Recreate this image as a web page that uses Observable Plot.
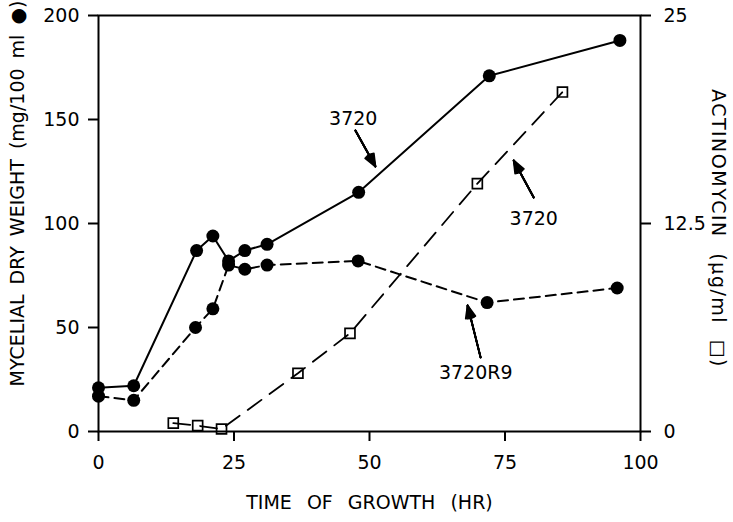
<!DOCTYPE html>
<html>
<head>
<meta charset="utf-8">
<script src="https://cdn.jsdelivr.net/npm/d3@7"></script>
<script src="https://cdn.jsdelivr.net/npm/@observablehq/plot@0.6"></script>
<style>
  html, body { margin: 0; padding: 0; background: white; }
</style>
</head>
<body>
<div id="chart"></div>
<script>
// Data
const time3720   = [0, 6.5, 18.1, 21.1, 24.0, 27.0, 31.1, 48.0, 72.1, 96.2];
const weight3720 = [21, 22, 87, 94, 82, 87, 90, 115, 171, 188];

const timeR9   = [0, 6.5, 17.9, 21.1, 24.0, 27.0, 31.1, 47.9, 71.7, 95.7];
const weightR9 = [17, 15, 50, 59, 80, 78, 80, 82, 62, 69];

const timeActino = [13.8, 18.3, 22.7, 36.8, 46.4, 69.9, 85.6];
const actino     = [0.5, 0.35, 0.15, 3.5, 5.9, 14.9, 20.4];

const xTicks = [0, 25, 50, 75, 100];
const leftTicks = [0, 50, 100, 150, 200];
const rightTicks = [0, 12.5, 25];
const rightMax = 25, leftMax = 200;

const annotLabels = ["3720", "3720", "3720R9"];
const annotX = [47.0, 80.3, 69.6];
const annotY = [150.5, 102.4, 28.4];
const arrowX1 = [47.4, 80.3, 70.5];
const arrowY1 = [144.7, 112.5, 35.6];
const arrowX2 = [51.1, 76.6, 68.1];
const arrowY2 = [127.4, 130.3, 60.6];

const xTitle = "TIME OF GROWTH (HR)";
const leftTitle = "MYCELIAL DRY WEIGHT (mg/100 ml \u25CF)";
const rightTitle = "ACTINOMYCIN (\u00B5g/ml \u25A1)";

// Build tables
const s3720 = time3720.map((t, i) => ({t, w: weight3720[i]}));
const sR9 = timeR9.map((t, i) => ({t, w: weightR9[i]}));
const scale = leftMax / rightMax;
const sAct = timeActino.map((t, i) => ({t, a: actino[i]}));
const annots = annotLabels.map((label, i) => ({label, x: annotX[i], y: annotY[i]}));
const arrows = annotLabels.map((label, i) => ({x1: arrowX1[i], y1: arrowY1[i], x2: arrowX2[i], y2: arrowY2[i]}));

// stacked arrowheads with decreasing angles give a filled head
const arrowMarks = [44, 34, 24, 14, 5].map(a =>
  Plot.arrow(arrows, {x1: "x1", y1: "y1", x2: "x2", y2: "y2", stroke: "black", strokeWidth: 1.8, headLength: 11, headAngle: a})
);

const chart = Plot.plot({
  width: 733,
  height: 522,
  marginLeft: 98,
  marginRight: 93,
  marginTop: 15,
  marginBottom: 91,
  style: {fontFamily: "DejaVu Sans", fontSize: "19px", color: "black", background: "white"},
  x: {domain: [0, 100]},
  y: {domain: [0, leftMax]},
  marks: [
    Plot.axisX({ticks: xTicks, tickSize: 10, tickPadding: 14, strokeWidth: 2, label: null, fontSize: 19}),
    Plot.axisY({ticks: leftTicks, tickSize: 10, tickPadding: 9, strokeWidth: 2, label: null, fontSize: 19}),
    Plot.axisY({anchor: "right", ticks: rightTicks.map(v => v * scale), tickFormat: d => String(d / scale),
      tickSize: 10, tickPadding: 13, strokeWidth: 2, label: null, fontSize: 19}),
    Plot.frame({stroke: "black", strokeWidth: 2}),
    Plot.line(sAct, {x: "t", y: d => d.a * scale, stroke: "black", strokeWidth: 1.8, strokeDasharray: "17,10"}),
    Plot.dot(sAct, {x: "t", y: d => d.a * scale, symbol: "square", r: 5.6, fill: "none", stroke: "black", strokeWidth: 1.7}),
    Plot.line(sR9, {x: "t", y: "w", stroke: "black", strokeWidth: 2, strokeDasharray: "10,6"}),
    Plot.line(s3720, {x: "t", y: "w", stroke: "black", strokeWidth: 2}),
    Plot.dot(sR9, {x: "t", y: "w", r: 6.5, fill: "black", stroke: "none"}),
    Plot.dot(s3720, {x: "t", y: "w", r: 6.5, fill: "black", stroke: "none"}),
    Plot.text(annots, {x: "x", y: "y", text: "label", fontSize: 19, fill: "black"}),
    ...arrowMarks,
    Plot.text([xTitle], {frameAnchor: "bottom", textAnchor: "middle", dy: 71, lineAnchor: "middle", fontSize: 19, fill: "black"}),
    Plot.text([leftTitle], {frameAnchor: "left", textAnchor: "middle", dx: -81, dy: -30, rotate: -90, lineAnchor: "middle", fontSize: 19, fill: "black"}),
    Plot.text([rightTitle], {frameAnchor: "right", textAnchor: "middle", dx: 78, dy: 5, rotate: 90, lineAnchor: "middle", fontSize: 19, fill: "black"})
  ]
});
// word / letter spacing as in the reference's typesetting
chart.querySelectorAll("text").forEach(t => {
  const s = t.textContent;
  if (s === xTitle) t.style.wordSpacing = "9px";
  else if (s === leftTitle) t.style.wordSpacing = "4px";
  else if (s === rightTitle) { t.style.wordSpacing = "8px"; t.style.letterSpacing = "1.5px"; }
});
document.getElementById("chart").appendChild(chart);
</script>
</body>
</html>
